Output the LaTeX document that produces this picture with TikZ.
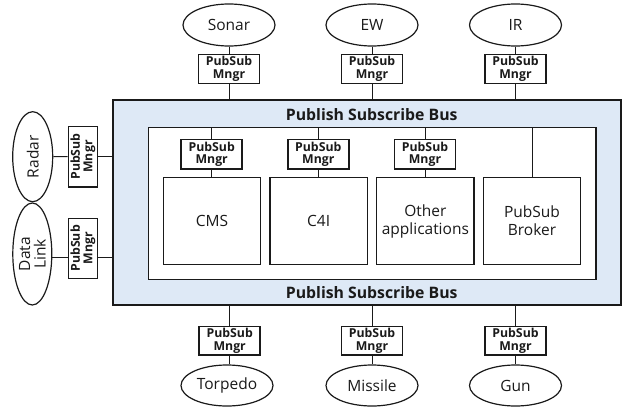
\documentclass[tikz,border=0pt]{standalone}
\usepackage{fontspec}
\setmainfont{Open Sans}
\usetikzlibrary{shapes.geometric}
\definecolor{busfill}{HTML}{DEE9F6}
\definecolor{ink}{HTML}{1A1A1A}
\begin{document}
\begin{tikzpicture}[x=1pt,y=-1pt,
  box/.style={draw=ink,line width=1.5pt,fill=white,inner sep=0pt,align=center,text=ink},
  mngr/.style={box,minimum width=61pt,minimum height=29.5pt,font=\fontsize{12.3}{12.5}\selectfont\bfseries},
  sidemngr/.style={box,minimum width=60.5pt,minimum height=29.4pt,rotate=90,font=\fontsize{12.3}{12.5}\selectfont\bfseries},
  app/.style={box,minimum width=97.4pt,minimum height=86.6pt,font=\fontsize{15.5}{18}\selectfont},
  dev/.style={ellipse,draw=ink,line width=1.2pt,fill=white,inner sep=0pt,text=ink,font=\fontsize{15.5}{17}\selectfont,align=center},
  link/.style={draw=ink,line width=1pt},
  bustitle/.style={font=\fontsize{15.8}{18}\selectfont\bfseries,text=ink}]
\useasboundingbox (0,0) rectangle (624,407);

% bus and the application area inside it
\node[box,fill=busfill,minimum width=508pt,minimum height=205pt] (bus) at (367,202.5) {};
\node[box,minimum width=447.5pt,minimum height=152pt] (inner) at (372.25,203.5) {};
\node[bustitle] (bustop) at (371.7,115) {Publish Subscribe Bus};
\node[bustitle] (busbot) at (371.7,292.7) {Publish Subscribe Bus};

% applications
\node[app] (cms) at (212,221) {CMS};
\node[app] (c4i) at (318.65,221) {C4I};
\node[app] (other) at (425.35,221) {Other\\applications};
\node[app] (broker) at (532,221) {PubSub\\Broker};
\node[mngr] (cmsM) at (211.7,154.2) {PubSub\\Mngr};
\node[mngr] (c4iM) at (318.3,154.2) {PubSub\\Mngr};
\node[mngr] (otherM) at (425,154.2) {PubSub\\Mngr};
\draw[link] (cmsM.north) -- (cmsM.north |- inner.north);
\draw[link] (cmsM.south) -- (cmsM.south |- cms.north);
\draw[link] (c4iM.north) -- (c4iM.north |- inner.north);
\draw[link] (c4iM.south) -- (c4iM.south |- c4i.north);
\draw[link] (otherM.north) -- (otherM.north |- inner.north);
\draw[link] (otherM.south) -- (otherM.south |- other.north);
\draw[link] (broker.north) -- (broker.north |- inner.north);

% sensors above the bus
\node[dev,minimum width=92pt,minimum height=42pt] (sonar) at (229,25) {Sonar};
\node[dev,minimum width=92pt,minimum height=42pt] (ew) at (372,25) {EW};
\node[dev,minimum width=92pt,minimum height=42pt] (ir) at (515.5,25) {IR};
\node[mngr,minimum height=29pt] (sonarM) at (229,69) {PubSub\\Mngr};
\node[mngr,minimum height=29pt] (ewM) at (372,69) {PubSub\\Mngr};
\node[mngr,minimum height=29pt] (irM) at (515.5,69) {PubSub\\Mngr};
\foreach \d in {sonar,ew,ir}{
  \draw[link] (\d.south) -- (\d M.north);
  \draw[link] (\d M.south) -- (\d M.south |- bus.north);
}

% weapons below the bus
\node[dev,minimum width=92pt,minimum height=41pt] (torpedo) at (227,385.5) {Torpedo};
\node[dev,minimum width=92pt,minimum height=41pt] (missile) at (372,385.5) {Missile};
\node[dev,minimum width=92pt,minimum height=41pt] (gun) at (515.5,385.5) {Gun};
\node[mngr,minimum height=28.7pt] (torpedoM) at (229.7,340.7) {PubSub\\Mngr};
\node[mngr,minimum height=28.7pt] (missileM) at (372,340.7) {PubSub\\Mngr};
\node[mngr,minimum height=28.7pt] (gunM) at (515.5,340.7) {PubSub\\Mngr};
\foreach \d in {torpedo,missile,gun}{
  \draw[link] (\d M.north) -- (\d M.north |- bus.south);
  \draw[link] (\d M.south) -- (\d M.south |- \d.north);
}

% external links on the left
\node[dev,minimum width=40pt,minimum height=90pt] (radar) at (32.7,156.7) {};
\node[rotate=90,text=ink,font=\fontsize{15.5}{17}\selectfont] (radarT) at (radar.center) {Radar};
\node[dev,minimum width=39pt,minimum height=102pt] (dl) at (32.3,254) {};
\node[rotate=90,text=ink,align=center,font=\fontsize{15.5}{15.5}\selectfont] (dlT) at (dl.center) {Data\\Link};
\node[sidemngr] (radarM) at (83,156.5) {PubSub\\Mngr};
\node[sidemngr,minimum width=60pt] (dlM) at (83,248.3) {PubSub\\Mngr};
\coordinate (dlLine) at (0,257.5);
\draw[link] (radar.east) -- (radarM.north);
\draw[link] (radarM.south) -- (radarM.south -| bus.west);
\draw[link] (dl.east |- dlLine) -- (dlM.north |- dlLine);
\draw[link] (dlM.south |- dlLine) -- (bus.west |- dlLine);
\end{tikzpicture}
\end{document}
